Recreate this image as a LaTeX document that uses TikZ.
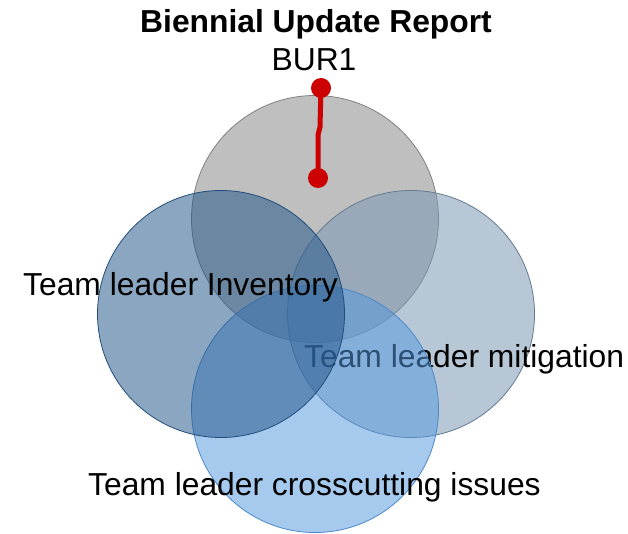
\documentclass[tikz,border=0pt]{standalone}
\usepackage{fontspec}
\setmainfont{Liberation Sans}
\definecolor{burred}{HTML}{CC0000}
\definecolor{invblue}{HTML}{24568A}
\definecolor{mitblue}{HTML}{7C98B4}
\definecolor{crossblue}{HTML}{5598DF}

\begin{document}
\begin{tikzpicture}[x=1pt, y=-1pt, font=\fontsize{31.8}{36}\selectfont,
  ring/.style={circle, minimum size=247pt, inner sep=0pt, line width=.8pt},
  lbl/.style={inner sep=0pt, anchor=base west},
  dot/.style={circle, fill=burred, minimum size=20pt, inner sep=0pt}]
\useasboundingbox (0,0) rectangle (628,534);
% Titre
\node[inner sep=0pt, anchor=base, font=\fontsize{31.8}{36}\selectfont\bfseries] (title) at (316,33) {Biennial Update Report};
\node[inner sep=0pt, anchor=base] (burlabel) at (314,71) {BUR1};
% Cercles
\node[ring, fill=black!25, draw=black!50] (bur) at (315,219) {};
\node[ring, fill=mitblue, fill opacity=.54, draw=mitblue!80!black] (mit) at (411,314) {};
\node[lbl] (mitlabel) at (304,367) {Team leader mitigation};
\node[ring, fill=crossblue, fill opacity=.52, draw=crossblue!90!black] (cross) at (315,409) {};
\node[ring, fill=invblue, fill opacity=.53, draw=invblue!90!black] (inv) at (221,314) {};
\node[lbl] (invlabel) at (23,295) {Team leader Inventory};
\node[lbl] (crosslabel) at (88,495) {Team leader crosscutting issues};
% Aiguille
\node[dot] (start) at (321,88) {};
\node[dot] (stop) at (318,178) {};
\draw[burred, line width=5pt] (start.center) -- ++(-1,39) -- ++(-2,8) -- (stop.center);
\end{tikzpicture}
\end{document}
